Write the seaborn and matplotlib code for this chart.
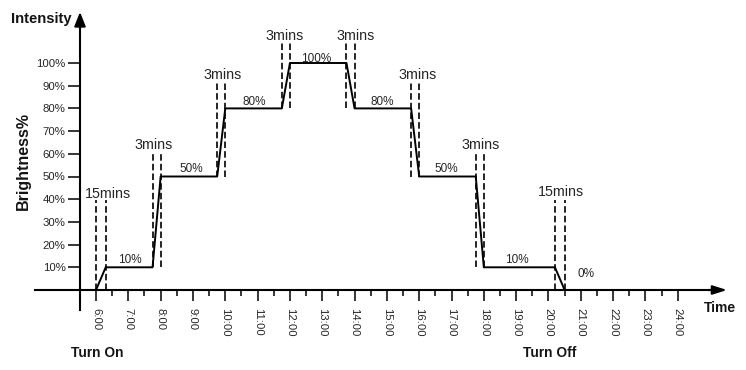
import matplotlib
matplotlib.use("Agg")
import matplotlib.pyplot as plt
import seaborn as sns
import pandas as pd

# ---- data ----
hours = [6.0, 6.3, 7.75, 8.0, 9.75, 10.0, 11.75, 12.0, 13.75, 14.0,
         15.75, 16.0, 17.75, 18.0, 20.2, 20.5]
brightness = [0, 10, 10, 50, 50, 80, 80, 100, 100, 80, 80, 50, 50, 10, 10, 0]

ramp_starts = [6.0, 7.75, 9.75, 11.75, 13.75, 15.75, 17.75, 20.2]
ramp_ends = [6.3, 8.0, 10.0, 12.0, 14.0, 16.0, 18.0, 20.5]
ramp_low = [0, 10, 50, 80, 80, 50, 10, 0]
ramp_guide_top = [39.6, 60.4, 91.6, 109.4, 109.4, 91.3, 60.2, 39.6]
ramp_labels = ["15mins", "3mins", "3mins", "3mins", "3mins", "3mins", "3mins", "15mins"]
ramp_label_x = [6.37, 7.77, 9.92, 11.82, 14.03, 15.96, 17.89, 20.37]
ramp_label_y = [40.7, 62.1, 92.9, 110.1, 110.1, 92.9, 62.1, 41.5]

level_labels = ["10%", "50%", "80%", "100%", "80%", "50%", "10%", "0%"]
level_x = [7.05, 8.95, 10.90, 12.82, 14.87, 16.84, 19.03, 21.15]
level_y = [11.8, 52.1, 81.5, 100.6, 81.5, 52.1, 11.8, 5.9]

hour_ticks = list(range(6, 25))
hour_tick_labels = [f"{h}:00" for h in hour_ticks]
half_hour_ticks = [h + 0.5 for h in range(6, 24)]
pct_ticks = list(range(10, 101, 10))
pct_tick_labels = [f"{p}%" for p in pct_ticks]

# ---- styling ----
sns.set_style("white")
plt.rcParams["font.family"] = ["Liberation Sans", "DejaVu Sans"]

W, H = 746, 370
fig = plt.figure(figsize=(W / 100, H / 100), dpi=100)
ax = fig.add_axes([0, 0, 1, 1])
ax.patch.set_alpha(0)

px_per_h = 32.32
px_per_pct = 2.27
x6 = 96.0
y0 = 290.0
ax.set_xlim(6 - x6 / px_per_h, 6 + (W - x6) / px_per_h)
ax.set_ylim(-(H - y0) / px_per_pct, y0 / px_per_pct)

df = pd.DataFrame({"hour": hours, "brightness": brightness})
sns.lineplot(data=df, x="hour", y="brightness", sort=False, estimator=None,
             color="black", lw=1.4, ax=ax)
ax.set_xlabel("")
ax.set_ylabel("")

# dashed guides at each ramp
dash = (0, (3.9, 1.9))
for xs, xe, lo, top in zip(ramp_starts, ramp_ends, ramp_low, ramp_guide_top):
    ax.vlines([xs, xe], lo, top, colors="black", linestyles=[dash], lw=1.2)

txt_col = "#262626"
for lab, x, y in zip(ramp_labels, ramp_label_x, ramp_label_y):
    ax.text(x, y, lab, ha="center", va="baseline", fontsize=10.3, color=txt_col)
for lab, x, y in zip(level_labels, level_x, level_y):
    ax.text(x, y, lab, ha="center", va="baseline", fontsize=8.5, color=txt_col)

# axes (spines) positioned like the reference
y_axis_x = 6 - (x6 - 80) / px_per_h
for s in ["top", "right"]:
    ax.spines[s].set_visible(False)
ax.spines["left"].set_position(("data", y_axis_x))
ax.spines["bottom"].set_position(("data", 0))
ax.spines["left"].set_bounds(-(310 - y0) / px_per_pct, (y0 - 24) / px_per_pct)
ax.spines["bottom"].set_bounds(6 - (x6 - 35) / px_per_h, 6 + (716 - x6) / px_per_h)
for s in ["left", "bottom"]:
    ax.spines[s].set_linewidth(1.5)
    ax.spines[s].set_color("black")

# arrow heads
ax.annotate("", xy=(y_axis_x, (y0 - 12) / px_per_pct),
            xytext=(y_axis_x, (y0 - 30) / px_per_pct),
            arrowprops=dict(arrowstyle="-|>,head_length=0.85,head_width=0.34",
                            color="black", lw=1.5, shrinkA=0, shrinkB=0,
                            mutation_scale=10))
ax.annotate("", xy=(6 + (727 - x6) / px_per_h, 0),
            xytext=(6 + (708 - x6) / px_per_h, 0),
            arrowprops=dict(arrowstyle="-|>,head_length=0.85,head_width=0.27",
                            color="black", lw=1.5, shrinkA=0, shrinkB=0,
                            mutation_scale=10))

ax.set_xticks(hour_ticks)
ax.set_xticklabels(hour_tick_labels, rotation=270, fontsize=8.1, color=txt_col)
ax.set_xticks(half_hour_ticks, minor=True)
ax.set_yticks(pct_ticks)
ax.set_yticklabels(pct_tick_labels, fontsize=8.2, color=txt_col)
ax.tick_params(axis="x", which="major", direction="out", length=7.7, width=1.1,
               pad=5.3, bottom=True, colors="black", labelcolor=txt_col)
ax.tick_params(axis="x", which="minor", direction="out", length=4.3, width=1.1,
               bottom=True, colors="black")
ax.tick_params(axis="y", which="major", direction="out", length=8.4, width=1.1,
               pad=1.9, left=True, colors="black", labelcolor=txt_col)
ax.grid(False)

# axis titles / annotations (positions in pixels of the reference)
def ftext(px, py, s, **kw):
    fig.text(px / W, 1 - py / H, s, **kw)

bold_col = "#141414"
ftext(10.7, 22.5, "Intensity", ha="left", va="baseline", fontsize=10.6,
      fontweight="bold", color=bold_col)
ftext(23.5, 161, "Brightness%", ha="center", va="center", rotation=90,
      fontsize=11.5, fontweight="bold", color=bold_col)
ftext(704, 311.7, "Time", ha="left", va="baseline", fontsize=10,
      fontweight="bold", color=bold_col)
ftext(71, 356.7, "Turn On", ha="left", va="baseline", fontsize=9.9,
      fontweight="bold", color=bold_col)
ftext(522.7, 356.7, "Turn Off", ha="left", va="baseline", fontsize=9.9,
      fontweight="bold", color=bold_col)

fig.savefig("out.png", dpi=100)
